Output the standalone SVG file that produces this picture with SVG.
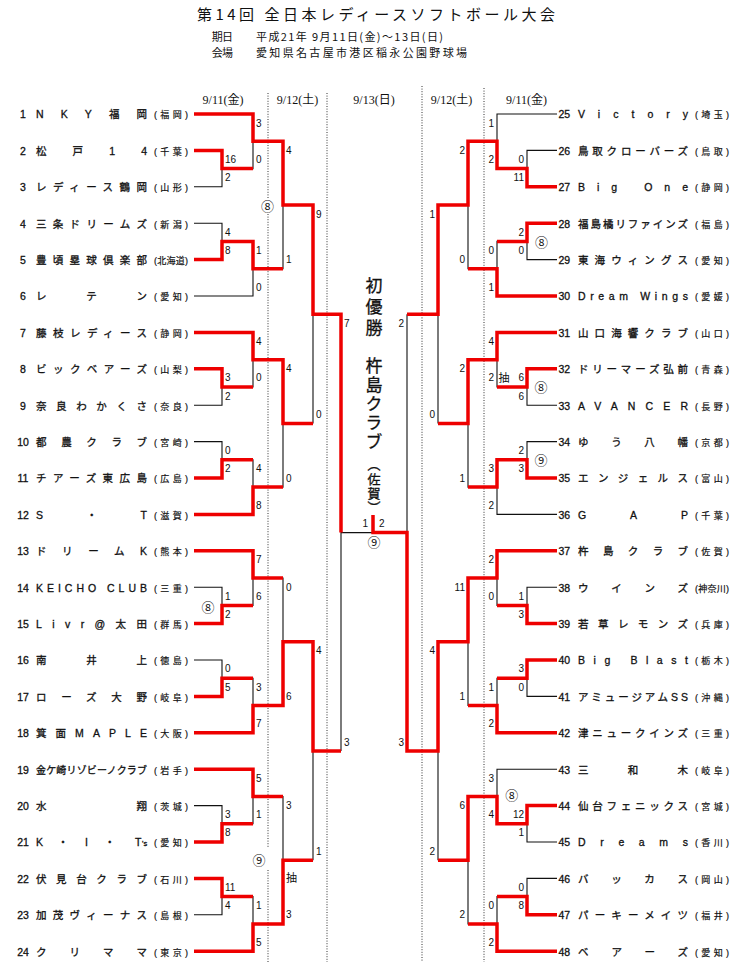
<svg xmlns="http://www.w3.org/2000/svg" width="750" height="965" viewBox="0 0 750 965">
<style>
text{font-family:"Liberation Sans","Noto Sans CJK JP",sans-serif;fill:#111}
.jp{font-family:"Noto Sans CJK JP",sans-serif}
.title{font-size:15px}
.sub{font-size:11px}
.date{font-family:"Liberation Serif","Noto Sans CJK JP",serif;font-size:12px;text-anchor:middle}
.num{font-size:10.5px;text-anchor:middle;stroke:#111;stroke-width:0.3}
.numR{font-size:10.5px;stroke:#111;stroke-width:0.3}
.name{font-size:10.5px;stroke:#111;stroke-width:0.3}
.pref{font-size:9px;stroke:#111;stroke-width:0.2}
.s{font-size:10px}
.e{text-anchor:end}
.m{text-anchor:middle}
.c{font-family:"Noto Sans CJK JP",sans-serif;font-size:13px;text-anchor:middle}
.blk{fill:none;stroke:#111;stroke-width:1.1}
.red{fill:none;stroke:#ee0000;stroke-width:3.5;stroke-linejoin:miter}
.dot{fill:none;stroke:#333;stroke-width:1;stroke-dasharray:1 1.6}
.champ{font-family:"Noto Sans CJK JP",sans-serif;writing-mode:vertical-rl;stroke:#111;stroke-width:0.3}
</style>
<defs>
<path id="baseL" d="M194 114H253V168.6H222M194 150.4H222V186.8H194M253 141.3H283V268.7H253M194 223.2H222V259.6H194M222 241.4H253V296H194M283 205H313"/>
<path id="baseR" d="M557 114H497V168.6H527M557 150.4H527V186.8H557M497 141.3H468V268.7H497M557 223.2H527V259.6H557M527 241.4H497V296H557M468 205H438"/>
</defs>
<rect width="750" height="965" fill="#fff"/>

<g id="header">
<text class="jp title" x="197" y="19.5" textLength="358">第14回 全日本レディースソフトボール大会</text>
<text class="jp sub" x="211.7" y="40.5" textLength="21.3">期日</text>
<text class="jp sub" x="256" y="40.5" textLength="187">平成21年 9月11日(金)～13日(日)</text>
<text class="jp sub" x="211.7" y="57" textLength="21.3">会場</text>
<text class="jp sub" x="256" y="57" textLength="211">愛知県名古屋市港区稲永公園野球場</text>
<text class="date" x="223" y="104">9/11(金)</text>
<text class="date" x="297.5" y="104">9/12(土)</text>
<text class="date" x="374" y="104">9/13(日)</text>
<text class="date" x="451.5" y="104">9/12(土)</text>
<text class="date" x="526.5" y="104">9/11(金)</text>
</g>

<g id="day-dividers" class="dot">
<path d="M268 93V198M268 214V848M268 870V962M327 93V962M422 86V962M484 88V962"/>
</g>

<g id="connectors">
<g class="blk">
<use href="#baseL"/>
<use href="#baseL" y="218.4"/>
<use href="#baseL" y="436.8"/>
<use href="#baseL" y="655.2"/>
<use href="#baseR"/>
<use href="#baseR" y="218.4"/>
<use href="#baseR" y="436.8"/>
<use href="#baseR" y="655.2"/>
<path d="M313 205V423.4M313 641.8V860.2M313 314.2H341M313 751H341M341 314.2V751M341 532.6H407M438 205V423.4M438 641.8V860.2M438 314.2H407M438 751H407M407 314.2V751"/>
</g>
<g class="red">
<path d="M194 114H253V141.3H283V205H313V314.2H341V532.6M194 150.4H222V168.6H253M194 259.6H222V241.4H253V268.7H283"/>
<path transform="translate(0 218.4)" d="M194 114H253V141.3H283V205H313M194 150.4H222V168.6H253M194 259.6H222V241.4H253M194 296H253V268.7H283"/>
<path transform="translate(0 436.8)" d="M194 114H253V141.3H283M194 186.8H222V168.6H253M194 259.6H222V241.4H253M194 296H253V268.7H283V205H313V314.2H341"/>
<path transform="translate(0 655.2)" d="M194 114H253V141.3H283M194 186.8H222V168.6H253M194 223.2H222V241.4H253M194 296H253V268.7H283V205H313"/>
<path d="M557 186.8H527V168.6H497V141.3H468V205H438V314.2H407M557 223.2H527V241.4H497M557 296H497V268.7H468"/>
<path transform="translate(0 218.4)" d="M557 114H497V141.3H468V205H438M557 150.4H527V168.6H497M557 259.6H527V241.4H497V268.7H468"/>
<path transform="translate(0 436.8)" d="M557 114H497V141.3H468V205H438V314.2H407V95.8H373V78.2M557 186.8H527V168.6H497M557 223.2H527V241.4H497M557 296H497V268.7H468"/>
<path transform="translate(0 655.2)" d="M557 150.4H527V168.6H497V141.3H468V205H438M557 259.6H527V241.4H497M557 296H497V268.7H468"/>
</g>
</g>

<g id="teams-left">
<g id="team-1" transform="translate(0 118.3)"><text class="num" x="23">1</text><text class="name" x="36" textLength="111">NKY福岡</text><text class="pref" x="154" textLength="34">(福岡)</text></g>
<g id="team-2" transform="translate(0 154.7)"><text class="num" x="23">2</text><text class="name" x="36" textLength="111">松戸14</text><text class="pref" x="154" textLength="34">(千葉)</text></g>
<g id="team-3" transform="translate(0 191.1)"><text class="num" x="23">3</text><text class="name" x="36" textLength="111">レディース鶴岡</text><text class="pref" x="154" textLength="34">(山形)</text></g>
<g id="team-4" transform="translate(0 227.5)"><text class="num" x="23">4</text><text class="name" x="36" textLength="111">三条ドリームズ</text><text class="pref" x="154" textLength="34">(新潟)</text></g>
<g id="team-5" transform="translate(0 263.9)"><text class="num" x="23">5</text><text class="name" x="36" textLength="111">豊頃塁球倶楽部</text><text class="pref" x="154" textLength="34">(北海道)</text></g>
<g id="team-6" transform="translate(0 300.3)"><text class="num" x="23">6</text><text class="name" x="36" textLength="111">レテン</text><text class="pref" x="154" textLength="34">(愛知)</text></g>
<g id="team-7" transform="translate(0 336.7)"><text class="num" x="23">7</text><text class="name" x="36" textLength="111">藤枝レディース</text><text class="pref" x="154" textLength="34">(静岡)</text></g>
<g id="team-8" transform="translate(0 373.1)"><text class="num" x="23">8</text><text class="name" x="36" textLength="111">ビックベアーズ</text><text class="pref" x="154" textLength="34">(山梨)</text></g>
<g id="team-9" transform="translate(0 409.5)"><text class="num" x="23">9</text><text class="name" x="36" textLength="111">奈良わかくさ</text><text class="pref" x="154" textLength="34">(奈良)</text></g>
<g id="team-10" transform="translate(0 445.9)"><text class="num" x="23">10</text><text class="name" x="36" textLength="111">都農クラブ</text><text class="pref" x="154" textLength="34">(宮崎)</text></g>
<g id="team-11" transform="translate(0 482.3)"><text class="num" x="23">11</text><text class="name" x="36" textLength="111">チアーズ東広島</text><text class="pref" x="154" textLength="34">(広島)</text></g>
<g id="team-12" transform="translate(0 518.7)"><text class="num" x="23">12</text><text class="name" x="36" textLength="111">S・T</text><text class="pref" x="154" textLength="34">(滋賀)</text></g>
<g id="team-13" transform="translate(0 555.1)"><text class="num" x="23">13</text><text class="name" x="36" textLength="111">ドリームK</text><text class="pref" x="154" textLength="34">(熊本)</text></g>
<g id="team-14" transform="translate(0 591.5)"><text class="num" x="23">14</text><text class="name" x="36" textLength="111">KEICHO CLUB</text><text class="pref" x="154" textLength="34">(三重)</text></g>
<g id="team-15" transform="translate(0 627.9)"><text class="num" x="23">15</text><text class="name" x="36" textLength="111">Livr@太田</text><text class="pref" x="154" textLength="34">(群馬)</text></g>
<g id="team-16" transform="translate(0 664.3)"><text class="num" x="23">16</text><text class="name" x="36" textLength="111">南井上</text><text class="pref" x="154" textLength="34">(徳島)</text></g>
<g id="team-17" transform="translate(0 700.7)"><text class="num" x="23">17</text><text class="name" x="36" textLength="111">ローズ大野</text><text class="pref" x="154" textLength="34">(岐阜)</text></g>
<g id="team-18" transform="translate(0 737.1)"><text class="num" x="23">18</text><text class="name" x="36" textLength="111">箕面MAPLE</text><text class="pref" x="154" textLength="34">(大阪)</text></g>
<g id="team-19" transform="translate(0 773.5)"><text class="num" x="23">19</text><text class="name" x="36" textLength="111" style="font-size:10px">金ケ崎リゾビーノクラブ</text><text class="pref" x="154" textLength="34">(岩手)</text></g>
<g id="team-20" transform="translate(0 809.9)"><text class="num" x="23">20</text><text class="name" x="36" textLength="111">水翔</text><text class="pref" x="154" textLength="34">(茨城)</text></g>
<g id="team-21" transform="translate(0 846.3)"><text class="num" x="23">21</text><text class="name" x="36 57.8 85 104.5 135">K・I・T<tspan x="142" style="font-size:7.5px">'s</tspan></text><text class="pref" x="154" textLength="34">(愛知)</text></g>
<g id="team-22" transform="translate(0 882.7)"><text class="num" x="23">22</text><text class="name" x="36" textLength="111">伏見台クラブ</text><text class="pref" x="154" textLength="34">(石川)</text></g>
<g id="team-23" transform="translate(0 919.1)"><text class="num" x="23">23</text><text class="name" x="36" textLength="111">加茂ヴィーナス</text><text class="pref" x="154" textLength="34">(島根)</text></g>
<g id="team-24" transform="translate(0 955.5)"><text class="num" x="23">24</text><text class="name" x="36" textLength="111">クリママ</text><text class="pref" x="154" textLength="34">(東京)</text></g>
</g>

<g id="teams-right">
<g id="team-25" transform="translate(0 118.3)"><text class="numR" x="558.5">25</text><text class="name" x="578" textLength="110">Victory</text><text class="pref" x="695" textLength="34">(埼玉)</text></g>
<g id="team-26" transform="translate(0 154.7)"><text class="numR" x="558.5">26</text><text class="name" x="578" textLength="110">鳥取クローバーズ</text><text class="pref" x="695" textLength="34">(鳥取)</text></g>
<g id="team-27" transform="translate(0 191.1)"><text class="numR" x="558.5">27</text><text class="name" x="578" textLength="110">Big One</text><text class="pref" x="695" textLength="34">(静岡)</text></g>
<g id="team-28" transform="translate(0 227.5)"><text class="numR" x="558.5">28</text><text class="name" x="578" textLength="110">福島橘リファインズ</text><text class="pref" x="695" textLength="34">(福島)</text></g>
<g id="team-29" transform="translate(0 263.9)"><text class="numR" x="558.5">29</text><text class="name" x="578" textLength="110">東海ウィングス</text><text class="pref" x="695" textLength="34">(愛知)</text></g>
<g id="team-30" transform="translate(0 300.3)"><text class="numR" x="558.5">30</text><text class="name" x="578" textLength="110">Dream Wings</text><text class="pref" x="695" textLength="34">(愛媛)</text></g>
<g id="team-31" transform="translate(0 336.7)"><text class="numR" x="558.5">31</text><text class="name" x="578" textLength="110">山口海響クラブ</text><text class="pref" x="695" textLength="34">(山口)</text></g>
<g id="team-32" transform="translate(0 373.1)"><text class="numR" x="558.5">32</text><text class="name" x="578" textLength="110">ドリーマーズ弘前</text><text class="pref" x="695" textLength="34">(青森)</text></g>
<g id="team-33" transform="translate(0 409.5)"><text class="numR" x="558.5">33</text><text class="name" x="578" textLength="110">AVANCER</text><text class="pref" x="695" textLength="34">(長野)</text></g>
<g id="team-34" transform="translate(0 445.9)"><text class="numR" x="558.5">34</text><text class="name" x="578" textLength="110">ゆう八幡</text><text class="pref" x="695" textLength="34">(京都)</text></g>
<g id="team-35" transform="translate(0 482.3)"><text class="numR" x="558.5">35</text><text class="name" x="578" textLength="110">エンジェルス</text><text class="pref" x="695" textLength="34">(富山)</text></g>
<g id="team-36" transform="translate(0 518.7)"><text class="numR" x="558.5">36</text><text class="name" x="578" textLength="110">GAP</text><text class="pref" x="695" textLength="34">(千葉)</text></g>
<g id="team-37" transform="translate(0 555.1)"><text class="numR" x="558.5">37</text><text class="name" x="578" textLength="110">杵島クラブ</text><text class="pref" x="695" textLength="34">(佐賀)</text></g>
<g id="team-38" transform="translate(0 591.5)"><text class="numR" x="558.5">38</text><text class="name" x="578" textLength="110">ウインズ</text><text class="pref" x="695" textLength="34">(神奈川)</text></g>
<g id="team-39" transform="translate(0 627.9)"><text class="numR" x="558.5">39</text><text class="name" x="578" textLength="110">若草レモンズ</text><text class="pref" x="695" textLength="34">(兵庫)</text></g>
<g id="team-40" transform="translate(0 664.3)"><text class="numR" x="558.5">40</text><text class="name" x="578" textLength="110">Big Blast</text><text class="pref" x="695" textLength="34">(栃木)</text></g>
<g id="team-41" transform="translate(0 700.7)"><text class="numR" x="558.5">41</text><text class="name" x="578" textLength="110">アミュージアムSS</text><text class="pref" x="695" textLength="34">(沖縄)</text></g>
<g id="team-42" transform="translate(0 737.1)"><text class="numR" x="558.5">42</text><text class="name" x="578" textLength="110">津ニュークインズ</text><text class="pref" x="695" textLength="34">(三重)</text></g>
<g id="team-43" transform="translate(0 773.5)"><text class="numR" x="558.5">43</text><text class="name" x="578" textLength="110">三和木</text><text class="pref" x="695" textLength="34">(岐阜)</text></g>
<g id="team-44" transform="translate(0 809.9)"><text class="numR" x="558.5">44</text><text class="name" x="578" textLength="110">仙台フェニックス</text><text class="pref" x="695" textLength="34">(宮城)</text></g>
<g id="team-45" transform="translate(0 846.3)"><text class="numR" x="558.5">45</text><text class="name" x="578" textLength="110">Dreams</text><text class="pref" x="695" textLength="34">(香川)</text></g>
<g id="team-46" transform="translate(0 882.7)"><text class="numR" x="558.5">46</text><text class="name" x="578" textLength="110">バッカス</text><text class="pref" x="695" textLength="34">(岡山)</text></g>
<g id="team-47" transform="translate(0 919.1)"><text class="numR" x="558.5">47</text><text class="name" x="578" textLength="110">パーキーメイツ</text><text class="pref" x="695" textLength="34">(福井)</text></g>
<g id="team-48" transform="translate(0 955.5)"><text class="numR" x="558.5">48</text><text class="name" x="578" textLength="110">ベアーズ</text><text class="pref" x="695" textLength="34">(愛知)</text></g>
</g>

<g id="scores">
<g class="s">
<text x="225" y="162.9">16</text><text x="225" y="181.3">2</text><text x="256" y="126.5">3</text><text x="256" y="163.1">0</text><text x="225" y="235.7">4</text><text x="225" y="254.1">8</text><text x="256" y="253.9">1</text><text x="256" y="290.5">0</text><text x="286" y="153.8">4</text><text x="286" y="263.2">1</text>
</g>
<g class="s" transform="translate(0 218.4)">
<text x="225" y="162.9">3</text><text x="225" y="181.3">2</text><text x="256" y="126.5">4</text><text x="256" y="163.1">0</text><text x="225" y="235.7">0</text><text x="225" y="254.1">2</text><text x="256" y="253.9">4</text><text x="256" y="290.5">8</text><text x="286" y="153.8">4</text><text x="286" y="263.2">0</text>
</g>
<g class="s" transform="translate(0 436.8)">
<text x="225" y="162.9">1</text><text x="225" y="181.3">2</text><text x="256" y="126.5">7</text><text x="256" y="163.1">6</text><text x="225" y="235.7">0</text><text x="225" y="254.1">5</text><text x="256" y="253.9">3</text><text x="256" y="290.5">7</text><text x="286" y="153.8">0</text><text x="286" y="263.2">6</text>
</g>
<g class="s" transform="translate(0 655.2)">
<text x="225" y="162.9">3</text><text x="225" y="181.3">8</text><text x="256" y="126.5">5</text><text x="256" y="163.1">1</text><text x="225" y="235.7">11</text><text x="225" y="254.1">4</text><text x="256" y="253.9">1</text><text x="256" y="290.5">5</text><text x="286" y="153.8">3</text><text x="286" y="263.2">3</text>
<text class="jp" x="286" y="227.3" style="font-size:11px">抽</text>
</g>
<g class="s e">
<text x="524" y="162.9">0</text><text x="524" y="181.3">11</text><text x="494" y="126.5">1</text><text x="494" y="163.1">2</text><text x="524" y="235.7">2</text><text x="524" y="254.1">0</text><text x="494" y="253.9">0</text><text x="494" y="290.5">1</text><text x="465" y="153.8">2</text><text x="465" y="263.2">0</text>
</g>
<g class="s e" transform="translate(0 218.4)">
<text x="524" y="162.9">6</text><text x="524" y="181.3">6</text><text x="494" y="126.5">4</text><text x="494" y="163.1">2</text><text x="524" y="235.7">2</text><text x="524" y="254.1">3</text><text x="494" y="253.9">3</text><text x="494" y="290.5">2</text><text x="465" y="153.8">2</text><text x="465" y="263.2">1</text>
<text class="jp m" x="504" y="164.1" style="font-size:11px">抽</text>
</g>
<g class="s e" transform="translate(0 436.8)">
<text x="524" y="162.9">1</text><text x="524" y="181.3">3</text><text x="494" y="126.5">2</text><text x="494" y="163.1">0</text><text x="524" y="235.7">3</text><text x="524" y="254.1">0</text><text x="494" y="253.9">1</text><text x="494" y="290.5">2</text><text x="465" y="153.8">11</text><text x="465" y="263.2">1</text>
</g>
<g class="s e" transform="translate(0 655.2)">
<text x="524" y="162.9">12</text><text x="524" y="181.3">1</text><text x="494" y="126.5">3</text><text x="494" y="163.1">4</text><text x="524" y="235.7">0</text><text x="524" y="254.1">8</text><text x="494" y="253.9">0</text><text x="494" y="290.5">2</text><text x="465" y="153.8">6</text><text x="465" y="263.2">2</text>
</g>
<g class="s">
<text x="316" y="217.5">9</text><text x="316" y="417.9">0</text><text x="316" y="654.3">4</text><text x="316" y="854.7">1</text>
<text x="344" y="326.7">7</text><text x="344" y="745.5">3</text>
<text x="379" y="527">2</text>
</g>
<g class="s e">
<text x="435" y="217.5">1</text><text x="435" y="417.9">0</text><text x="435" y="654.3">4</text><text x="435" y="854.7">2</text>
<text x="404" y="326.7">2</text><text x="404" y="745.5">3</text>
<text x="368" y="527">1</text>
</g>
</g>

<g id="marks" class="c">
<text x="267.5" y="210.5">⑧</text>
<text x="208" y="611.5">⑧</text>
<text x="259" y="864.5">⑨</text>
<text x="541.5" y="247.2">⑧</text>
<text x="541" y="391.8">⑧</text>
<text x="541" y="464.5">⑨</text>
<text x="511.7" y="800.2">⑧</text>
<text x="374" y="546.5">⑨</text>
</g>

<g id="champion">
<text class="champ" x="374" y="277.5" style="font-size:17px;letter-spacing:4px">初優勝</text>
<text class="champ" x="374" y="357.5" style="font-size:17px;letter-spacing:2px">杵島クラブ</text>
<text class="champ" x="374" y="458" style="font-size:13px;letter-spacing:1.3px">（佐賀）</text>
</g>
</svg>
